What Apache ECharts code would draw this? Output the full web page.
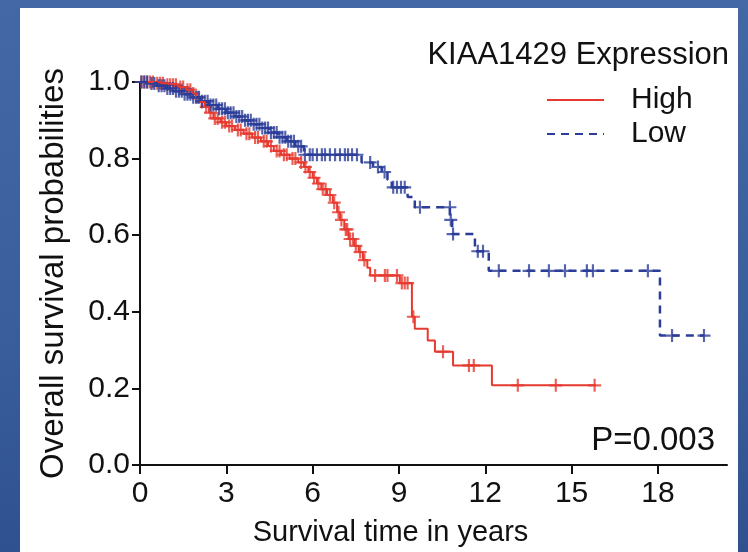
<!DOCTYPE html>
<html style="height: 100%">

<head>
    <meta charset="utf-8">
    <title>KIAA1429 survival</title>
    <script type="text/javascript" src="https://cdn.jsdelivr.net/npm/echarts@6/dist/echarts.min.js"></script>
</head>

<body style="height: 100%; margin: 0; background: linear-gradient(180deg, #4468a6 0%, #3a5d9b 60%, #2f5190 100%);">
    <div style="position: absolute; left: 20px; top: 8px; width: 718px; height: 544px; background: #fff;"></div>
    <div id="container" style="position: absolute; left: 0; top: 0; width: 748px; height: 552px;"></div>

    <script type="text/javascript">
        // 横轴刻度
        var xTicks = [0, 3, 6, 9, 12, 15, 18];

        // High 组：生存曲线拐点 (年, 生存率)
        var highTime = [0, 0.55, 0.9, 1.35, 1.6, 1.8, 1.95, 2.1, 2.25, 2.4, 2.55, 2.8, 3.0, 3.3, 3.6, 3.9, 4.2, 4.45, 4.65, 4.9,
            5.2, 5.5, 5.7, 5.85, 6.0, 6.15, 6.3, 6.5, 6.7, 6.85, 6.95, 7.1, 7.25, 7.45, 7.6, 7.75, 7.9, 8.0, 9.03, 9.45,
            9.55, 10.0, 10.25, 10.88, 12.23, 15.85];
        var highSurv = [1.0, 0.997, 0.993, 0.987, 0.98, 0.97, 0.96, 0.948, 0.935, 0.92, 0.905, 0.895, 0.885, 0.875, 0.865, 0.855, 0.845, 0.833, 0.82, 0.81,
            0.8, 0.79, 0.778, 0.765, 0.75, 0.735, 0.72, 0.705, 0.685, 0.66, 0.64, 0.615, 0.59, 0.572, 0.556, 0.535, 0.515, 0.495, 0.475, 0.387,
            0.356, 0.325, 0.296, 0.26, 0.208, 0.208];
        // High 组：删失点
        var highCensorTime = [0.05, 0.15, 0.25, 0.35, 0.45, 0.6, 0.7, 0.8, 0.95, 1.05, 1.15, 1.25, 1.4, 1.5, 1.65, 1.75, 1.85, 2.0, 2.15, 2.3,
            2.45, 2.6, 2.7, 2.85, 2.95, 3.1, 3.2, 3.4, 3.5, 3.7, 3.8, 4.0, 4.1, 4.3, 4.4, 4.55, 4.75, 4.85, 5.0, 5.1,
            5.3, 5.4, 5.6, 5.75, 5.9, 6.05, 6.2, 6.35, 6.45, 6.6, 6.75, 6.9, 7.0, 7.15, 7.2, 7.3, 7.4, 7.5, 7.65, 7.8,
            8.17, 8.51, 8.6, 8.93, 9.1, 9.2, 9.3, 9.5, 10.53, 11.43, 11.6, 13.13, 14.45, 15.8];
        var highCensorSurv = [1.0, 1.0, 1.0, 1.0, 1.0, 0.997, 0.997, 0.997, 0.993, 0.993, 0.993, 0.993, 0.987, 0.987, 0.98, 0.98, 0.97, 0.96, 0.948, 0.935,
            0.92, 0.905, 0.905, 0.895, 0.895, 0.885, 0.885, 0.875, 0.875, 0.865, 0.865, 0.855, 0.855, 0.845, 0.845, 0.833, 0.82, 0.82, 0.81, 0.81,
            0.8, 0.8, 0.79, 0.778, 0.765, 0.75, 0.735, 0.72, 0.72, 0.705, 0.685, 0.66, 0.64, 0.615, 0.615, 0.59, 0.59, 0.572, 0.556, 0.535,
            0.495, 0.495, 0.495, 0.495, 0.475, 0.475, 0.475, 0.387, 0.296, 0.26, 0.26, 0.208, 0.208, 0.208];

        // Low 组：生存曲线拐点
        var lowTime = [0, 0.3, 0.6, 0.9, 1.2, 1.5, 1.8, 2.1, 2.4, 2.7, 3.0, 3.3, 3.6, 3.9, 4.2, 4.5, 4.8, 5.1, 5.4, 5.7,
            7.7, 8.1, 8.4, 8.6, 8.75, 9.3, 9.55, 10.77, 10.85, 11.64, 12.12, 18.07, 19.62];
        var lowSurv = [1.0, 0.996, 0.99, 0.983, 0.976, 0.968, 0.96, 0.95, 0.94, 0.93, 0.92, 0.91, 0.9, 0.89, 0.88, 0.868, 0.856, 0.845, 0.832, 0.81,
            0.79, 0.778, 0.765, 0.745, 0.725, 0.70, 0.673, 0.64, 0.603, 0.558, 0.507, 0.338, 0.338];
        // Low 组：删失点
        var lowCensorTime = [0.05, 0.15, 0.25, 0.4, 0.5, 0.65, 0.75, 0.85, 0.95, 1.05, 1.15, 1.25, 1.35, 1.45, 1.55, 1.65, 1.75, 1.85, 1.95, 2.05,
            2.15, 2.25, 2.35, 2.45, 2.55, 2.65, 2.75, 2.85, 2.95, 3.05, 3.15, 3.25, 3.35, 3.45, 3.55, 3.65, 3.75, 3.85, 3.95, 4.05,
            4.15, 4.25, 4.35, 4.45, 4.55, 4.65, 4.75, 4.85, 4.95, 5.05, 5.15, 5.25, 5.35, 5.5, 5.6, 5.73, 5.9, 6.0, 6.15, 6.32,
            6.43, 6.6, 6.78, 6.95, 7.12, 7.23, 7.37, 7.54, 8.0, 8.27, 8.5, 8.8, 8.93, 9.07, 9.2, 9.73, 10.77, 10.8, 10.88, 11.74,
            11.92, 12.47, 13.52, 14.21, 14.77, 15.53, 15.74, 17.65, 18.49, 19.6];
        var lowCensorSurv = [1.0, 1.0, 1.0, 0.996, 0.996, 0.99, 0.99, 0.99, 0.983, 0.983, 0.983, 0.976, 0.976, 0.976, 0.968, 0.968, 0.968, 0.96, 0.96, 0.96,
            0.95, 0.95, 0.95, 0.94, 0.94, 0.94, 0.93, 0.93, 0.93, 0.92, 0.92, 0.92, 0.91, 0.91, 0.91, 0.9, 0.9, 0.9, 0.89, 0.89,
            0.89, 0.88, 0.88, 0.88, 0.868, 0.868, 0.868, 0.856, 0.856, 0.856, 0.845, 0.845, 0.845, 0.832, 0.832, 0.81, 0.81, 0.81, 0.81, 0.81,
            0.81, 0.81, 0.81, 0.81, 0.81, 0.81, 0.81, 0.81, 0.79, 0.778, 0.765, 0.725, 0.725, 0.725, 0.725, 0.673, 0.673, 0.64, 0.603, 0.558,
            0.558, 0.507, 0.507, 0.507, 0.507, 0.507, 0.507, 0.507, 0.338, 0.338];

        var RED = '#e6392f';
        var BLUE = '#2b3d98';
        var FONT = 'Liberation Sans';
        var PLUS = 'path://M5,0h2v5h5v2h-5v5h-2v-5h-5v-2h5z';

        function pairs(xs, ys) {
            var out = [];
            for (var i = 0; i < xs.length; i++) {
                out.push([xs[i], ys[i]]);
            }
            return out;
        }

        var dom = document.getElementById("container");
        var myChart = echarts.init(dom);
        var option = {
            animation: false,
            title: [{
                text: 'KIAA1429 Expression',
                right: 14,
                top: 35,
                textStyle: { fontFamily: FONT, fontSize: 31, fontWeight: 'normal', color: '#111' }
            }, {
                text: 'P=0.003',
                right: 28,
                top: 419,
                textStyle: { fontFamily: FONT, fontSize: 33, fontWeight: 'normal', color: '#111' }
            }],
            legend: {
                orient: 'vertical',
                left: 541,
                top: 80,
                itemWidth: 57,
                itemHeight: 14,
                itemGap: 4,
                data: ['High', 'Low'],
                itemStyle: { opacity: 0 },
                textStyle: {
                    fontFamily: FONT,
                    fontSize: 30,
                    lineHeight: 30,
                    color: '#111',
                    padding: [0, 0, 0, 22]
                }
            },
            grid: {
                left: 140,
                top: 82,
                right: 21,
                bottom: 85
            },
            xAxis: {
                type: 'value',
                min: 0,
                max: 20.4,
                name: 'Survival time in years',
                nameLocation: 'middle',
                nameGap: 53,
                nameTextStyle: { fontFamily: FONT, fontSize: 29, color: '#111', padding: [0, 86, 0, 0] },
                splitLine: { show: false },
                axisLine: { lineStyle: { color: '#111', width: 2 } },
                axisTick: { length: 9, lineStyle: { color: '#111', width: 2 }, customValues: xTicks },
                axisLabel: { fontFamily: FONT, fontSize: 30, color: '#111', margin: 14, customValues: xTicks }
            },
            yAxis: {
                type: 'value',
                min: 0,
                max: 1,
                interval: 0.2,
                name: 'Overall survival probabilities',
                nameLocation: 'middle',
                nameGap: 70,
                nameTextStyle: { fontFamily: FONT, fontSize: 33, color: '#111' },
                splitLine: { show: false },
                axisLine: { show: true, lineStyle: { color: '#111', width: 2 } },
                axisTick: { show: true, length: 8, lineStyle: { color: '#111', width: 2 } },
                axisLabel: {
                    fontFamily: FONT, fontSize: 30, color: '#111', margin: 10,
                    formatter: function (v) { return v.toFixed(1); }
                }
            },
            series: [
                {
                    name: 'High',
                    type: 'line',
                    step: 'end',
                    symbol: 'none',
                    color: RED,
                    lineStyle: { color: RED, width: 2 },
                    data: pairs(highTime, highSurv)
                },
                {
                    name: 'High censored',
                    type: 'scatter',
                    symbol: PLUS,
                    symbolSize: 13,
                    itemStyle: { color: RED },
                    data: pairs(highCensorTime, highCensorSurv)
                },
                {
                    name: 'Low',
                    type: 'line',
                    step: 'end',
                    symbol: 'none',
                    color: BLUE,
                    lineStyle: { color: BLUE, width: 2.5, type: [8, 6] },
                    data: pairs(lowTime, lowSurv)
                },
                {
                    name: 'Low censored',
                    type: 'scatter',
                    symbol: PLUS,
                    symbolSize: 13,
                    itemStyle: { color: BLUE },
                    data: pairs(lowCensorTime, lowCensorSurv)
                }
            ]
        };
        myChart.setOption(option, true);
    </script>
</body>

</html>
